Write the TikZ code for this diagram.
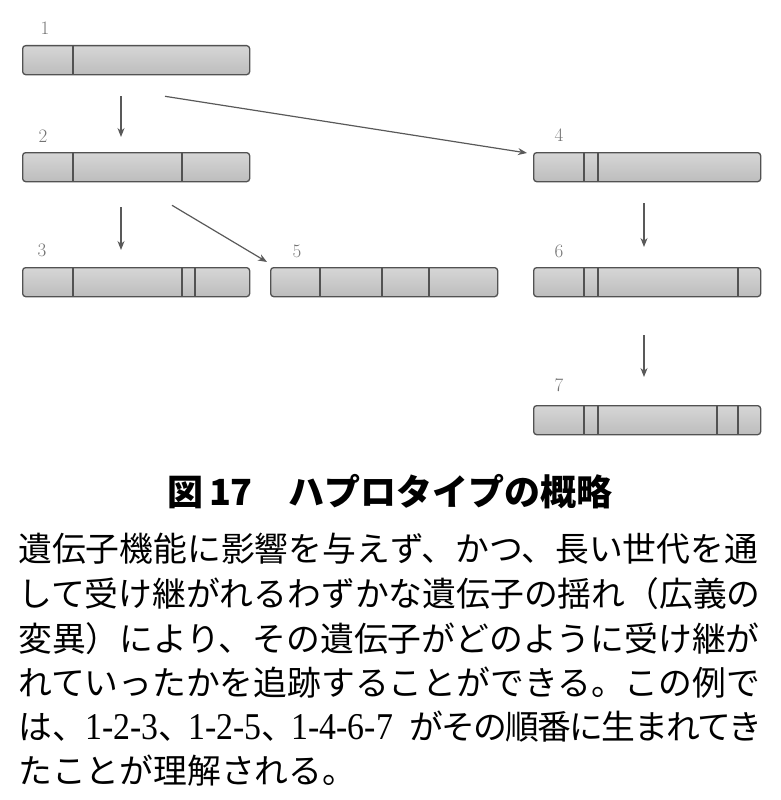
\documentclass[tikz,border=0pt]{standalone}
\usepackage{fontspec}
\usepackage{tikz}
\usetikzlibrary{arrows.meta}
\newfontfamily\jpfont{Noto Sans CJK JP}
\newfontfamily\digitfont{Liberation Serif}
\newcommand{\seq}[1]{\scalebox{1}[1.12]{\digitfont #1}}
\newcommand{\punct}[1]{\makebox[30pt][l]{#1}}
\tikzset{
  chrom/.style={draw=black!68, line width=1.3pt, rounded corners=3pt, anchor=north west,
    minimum width=227pt, minimum height=29pt, inner sep=0pt,
    top color=black!16, middle color=black!9, bottom color=black!26},
  cut/.style={draw=black!68, line width=1.3pt},
  num/.style={text=black!55, font=\fontsize{19}{19}\selectfont, inner sep=0pt},
  arr/.style={draw=black!65, line width=1.2pt, -{Stealth[length=9pt,width=7pt]}},
  txtline/.style={anchor=west, inner sep=0pt, font=\jpfont\fontsize{33.8}{33.8}\selectfont}
}
\begin{document}
\begin{tikzpicture}[x=1pt,y=-1pt]
\useasboundingbox (0,0) rectangle (781,800);
\node[chrom] (b1) at (22,45) {};
\node[chrom] (b2) at (22,152) {};
\node[chrom] (b3) at (22,267) {};
\node[chrom] (b5) at (270,267) {};
\node[chrom] (b4) at (533,152) {};
\node[chrom] (b6) at (533,267) {};
\node[chrom] (b7) at (533,405) {};
\foreach \n/\cuts in {b1/{51}, b2/{51,160}, b3/{51,160,173}, b5/{50,112,159},
                      b4/{51,65}, b6/{51,65,205}, b7/{51,65,184,205}}
  \foreach \c in \cuts
    \draw[cut] ([xshift=\c pt]\n.north west) -- ([xshift=\c pt]\n.south west);
\node[num] (n1) at ([xshift=23pt,yshift=17pt]b1.north west) {1};
\node[num] (n2) at ([xshift=21pt,yshift=16pt]b2.north west) {2};
\node[num] (n3) at ([xshift=20pt,yshift=17pt]b3.north west) {3};
\node[num] (n5) at ([xshift=27pt,yshift=16pt]b5.north west) {5};
\node[num] (n4) at ([xshift=26pt,yshift=17pt]b4.north west) {4};
\node[num] (n6) at ([xshift=26pt,yshift=16pt]b6.north west) {6};
\node[num] (n7) at ([xshift=26pt,yshift=20pt]b7.north west) {7};
\draw[arr, shorten <=21pt, shorten >=15pt] ([xshift=99pt]b1.south west) -- ([xshift=99pt]b2.north west);
\draw[arr, shorten <=25pt, shorten >=17pt] ([xshift=99pt]b2.south west) -- ([xshift=99pt]b3.north west);
\draw[arr, shorten <=21pt, shorten >=20pt] ([xshift=111pt]b4.south west) -- ([xshift=111pt]b6.north west);
\draw[arr, shorten <=38pt, shorten >=28pt] ([xshift=111pt]b6.south west) -- ([xshift=111pt]b7.north west);
\draw[arr] ([xshift=143pt,yshift=-21pt]b1.south west) -- ([xshift=-6pt,yshift=-1pt]b4.north west);
\draw[arr] ([xshift=150pt,yshift=-23pt]b2.south west) -- ([xshift=-3pt,yshift=5pt]b5.north west);
\node[font=\jpfont\bfseries\fontsize{36}{36}\selectfont, inner sep=0pt] (title) at (390,492) {図\,17　ハプロタイプの概略};
\node[txtline] (l1) at (18,549) {遺伝子機能に影響を与えず、かつ、長い世代を通};
\node[txtline] (l2) at (18,594) {して受け継がれるわずかな遺伝子の揺れ（広義の};
\node[txtline] (l3) at (18,639) {変異）により、その遺伝子がどのように受け継が};
\node[txtline] (l4) at (18,683) {れていったかを追跡することができる。この例で};
\node[txtline] (l5) at (18,727) {\makebox[744pt][s]{\makebox[67pt][l]{は、}\seq{1-2-3}\punct{、}\seq{1-2-5}\punct{、}\seq{1-4-6-7}\hfill
  {\addfontfeatures{LetterSpace=-5}がその順番に生まれてき}}};
\node[txtline] (l6) at (18,771) {たことが理解される。};
\end{tikzpicture}
\end{document}
